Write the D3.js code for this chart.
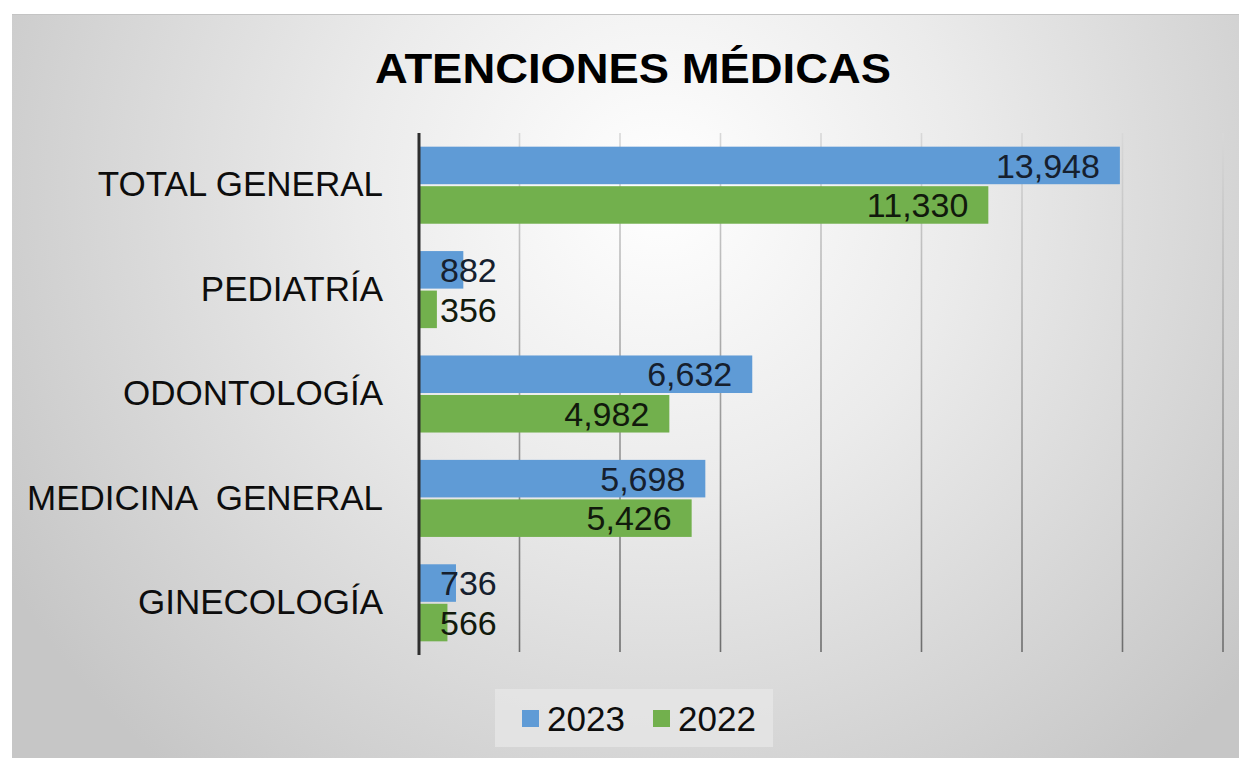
<!DOCTYPE html>
<html>
<head>
<meta charset="utf-8">
<script src="https://cdn.jsdelivr.net/npm/d3@7"></script>
<style>
  html, body { margin: 0; padding: 0; background: #ffffff; }
  svg { display: block; }
  text { font-family: "Liberation Sans", Arial, sans-serif; }
</style>
</head>
<body>
<svg id="chart" width="1239" height="758"></svg>
<script>
// ---- data ----
const title = "ATENCIONES MÉDICAS";
const categories = ["TOTAL GENERAL", "PEDIATRÍA", "ODONTOLOGÍA", "MEDICINA  GENERAL", "GINECOLOGÍA"];
const seriesNames = ["2023", "2022"];
const values2023 = [13948, 882, 6632, 5698, 736];
const values2022 = [11330, 356, 4982, 5426, 566];
const xTicks = [0, 2000, 4000, 6000, 8000, 10000, 12000, 14000, 16000];

const colors = { "2023": "#5f9bd6", "2022": "#72b04d" };
const seriesValues = { "2023": values2023, "2022": values2022 };

const W = 1239, H = 758;
const svg = d3.select("#chart");
const defs = svg.append("defs");

// background gradient
const bg = defs.append("radialGradient").attr("id", "bgGrad")
  .attr("gradientUnits", "userSpaceOnUse")
  .attr("cx", 660).attr("cy", 190).attr("r", 760);
bg.append("stop").attr("offset", "0%").attr("stop-color", "#ffffff");
bg.append("stop").attr("offset", "40%").attr("stop-color", "#ebebeb");
bg.append("stop").attr("offset", "100%").attr("stop-color", "#c6c6c6");

const gg = defs.append("linearGradient").attr("id", "gridGrad")
  .attr("gradientUnits", "userSpaceOnUse")
  .attr("x1", 0).attr("y1", 133).attr("x2", 0).attr("y2", 652);
gg.append("stop").attr("offset", "0%").attr("stop-color", "#d8d8d8");
gg.append("stop").attr("offset", "50%").attr("stop-color", "#a0a0a0");
gg.append("stop").attr("offset", "100%").attr("stop-color", "#6e6e6e");

svg.append("rect").attr("x", 12).attr("y", 14).attr("width", W - 12).attr("height", H - 14)
  .attr("fill", "url(#bgGrad)");
svg.append("line").attr("x1", 12).attr("x2", W).attr("y1", 14.5).attr("y2", 14.5)
  .attr("stroke", "#c4c4c4").attr("stroke-width", 1);

// title
svg.append("text").attr("x", 633).attr("y", 83)
  .attr("text-anchor", "middle").attr("font-size", 42).attr("font-weight", "bold")
  .attr("fill", "#000").text(title)
  .attr("textLength", 516).attr("lengthAdjust", "spacingAndGlyphs");

// scales
const x0 = 419;
const x = d3.scaleLinear().domain([0, 16000]).range([x0, 1223]);
const y = d3.scaleBand().domain(categories).range([133, 655]).paddingInner(0.262).paddingOuter(0.131);
const ySub = d3.scaleBand().domain(seriesNames).range([0, y.bandwidth()]).paddingInner(0.05);

// gridlines
svg.append("g").selectAll("line").data(xTicks.slice(1)).join("line")
  .attr("x1", d => x(d)).attr("x2", d => x(d))
  .attr("y1", 133).attr("y2", 652)
  .attr("stroke", "url(#gridGrad)").attr("stroke-width", 1.6);

// bars
const groups = svg.append("g").selectAll("g").data(categories).join("g")
  .attr("transform", d => `translate(0,${y(d)})`);

seriesNames.forEach(s => {
  groups.append("rect")
    .attr("x", x(0) + 1)
    .attr("y", ySub(s))
    .attr("width", (d, i) => x(seriesValues[s][i]) - x(0) - 1)
    .attr("height", ySub.bandwidth())
    .attr("fill", colors[s]);
});

// value labels
const fmt = d3.format(",");
seriesNames.forEach(s => {
  groups.append("text")
    .attr("y", ySub(s) + ySub.bandwidth() / 2)
    .attr("dy", "0.36em")
    .attr("text-anchor", "end")
    .attr("font-size", 34)
    .attr("fill", s === "2023" ? "#16202e" : "#111a0c")
    .text((d, i) => fmt(seriesValues[s][i]))
    .each(function (d, i) {
      const w = this.getComputedTextLength();
      const end = Math.max(x(seriesValues[s][i]) - 20, x0 + 21 + w);
      d3.select(this).attr("x", end);
    });
});

// category axis
const yAxis = d3.axisLeft(y).tickSize(0).tickPadding(36);
const ax = svg.append("g").attr("transform", `translate(${x0},0)`).call(yAxis);
ax.select(".domain").attr("stroke", "#2e2e2e").attr("stroke-width", 3)
  .attr("d", "M0,133V655");
ax.selectAll(".tick text")
  .attr("font-size", 35).attr("fill", "#0d0d0d")
  .attr("font-family", "'Liberation Sans', Arial, sans-serif")
  .style("white-space", "pre");

// legend
const lg = svg.append("g");
lg.append("rect").attr("x", 495).attr("y", 689).attr("width", 278).attr("height", 58)
  .attr("fill", "#e8e8e8").attr("opacity", 0.7);
const legendX = { "2023": 522, "2022": 653 };
seriesNames.forEach(s => {
  lg.append("rect").attr("x", legendX[s]).attr("y", 710).attr("width", 17).attr("height", 17)
    .attr("fill", colors[s]);
  lg.append("text").attr("x", legendX[s] + 25).attr("y", 731)
    .attr("font-size", 35).attr("fill", "#0d0d0d").text(s);
});
</script>
</body>
</html>
